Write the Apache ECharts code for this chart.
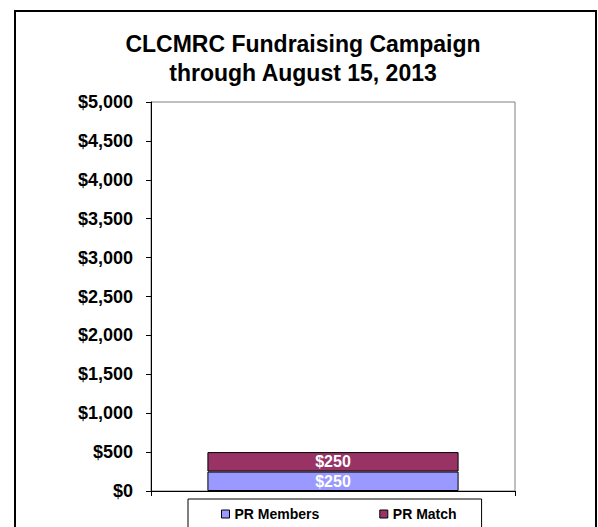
<!DOCTYPE html>
<html>
<head>
<meta charset="utf-8">
<script src="https://cdn.jsdelivr.net/npm/echarts@6/dist/echarts.min.js"></script>
<style>
html,body{margin:0;padding:0;background:#fff;}
#chart{width:598px;height:527px;}
</style>
</head>
<body>
<div id="chart"></div>
<script>
const titleLines = ['CLCMRC Fundraising Campaign', 'through August 15, 2013'];
const categories = ['Campaign'];
const seriesNames = ['PR Members', 'PR Match'];
const prMembers = [250];
const prMatch = [250];
const seriesColors = ['#9999FF', '#993366'];
const yMin = 0, yMax = 5000, yStep = 500;

const FONT = "'Liberation Sans', Arial, Helvetica, sans-serif";
const money = v => '$' + Math.round(v).toString().replace(/\B(?=(\d{3})+(?!\d))/g, ',');

const chart = echarts.init(document.getElementById('chart'), null, {renderer: 'svg'});
chart.setOption({
  backgroundColor: '#ffffff',
  animation: false,
  graphic: [{
    type: 'rect',
    shape: {x: 15, y: 11, width: 581, height: 540},
    style: {fill: 'none', stroke: '#000', lineWidth: 2},
    silent: true, z: -1
  }],
  title: {
    text: titleLines.join('\n'),
    left: 303,
    textAlign: 'center',
    top: 29,
    padding: 0,
    textStyle: {fontFamily: FONT, fontWeight: 'bold', fontSize: 23, lineHeight: 29, color: '#000'}
  },
  legend: {
    data: seriesNames,
    left: 188,
    top: 499,
    padding: [8, 25, 12, 33],
    itemGap: 60,
    itemWidth: 8,
    itemHeight: 8,
    icon: 'rect',
    borderColor: '#000',
    borderWidth: 1,
    backgroundColor: '#fff',
    itemStyle: {borderColor: '#000', borderWidth: 1},
    textStyle: {fontFamily: FONT, fontWeight: 'bold', fontSize: 14, color: '#000'}
  },
  grid: {
    left: 151, right: 83, top: 102, bottom: 36,
    show: true, borderColor: '#808080', borderWidth: 1, backgroundColor: '#fff'
  },
  xAxis: {
    type: 'category',
    data: categories,
    axisLine: {lineStyle: {color: '#000', width: 1}},
    axisTick: {show: true, length: 5, lineStyle: {color: '#000'}},
    axisLabel: {show: false},
    splitLine: {show: false}
  },
  yAxis: {
    type: 'value',
    min: yMin, max: yMax, interval: yStep,
    axisLine: {show: true, lineStyle: {color: '#000', width: 1}},
    axisTick: {show: true, length: 5, lineStyle: {color: '#000'}},
    splitLine: {show: false},
    axisLabel: {
      formatter: money, margin: 18,
      fontFamily: FONT, fontWeight: 'bold', fontSize: 18, color: '#000'
    }
  },
  series: [
    {
      name: seriesNames[0], type: 'bar', stack: 'total', data: prMembers,
      barWidth: '69%',
      itemStyle: {color: seriesColors[0], borderColor: '#000', borderWidth: 1},
      label: {show: true, position: 'inside', formatter: p => money(p.value),
        fontFamily: FONT, fontWeight: 'bold', fontSize: 16, color: '#fff'}
    },
    {
      name: seriesNames[1], type: 'bar', stack: 'total', data: prMatch,
      barWidth: '69%',
      itemStyle: {color: seriesColors[1], borderColor: '#000', borderWidth: 1},
      label: {show: true, position: 'inside', formatter: p => money(p.value),
        fontFamily: FONT, fontWeight: 'bold', fontSize: 16, color: '#fff'}
    }
  ]
});
</script>
</body>
</html>
